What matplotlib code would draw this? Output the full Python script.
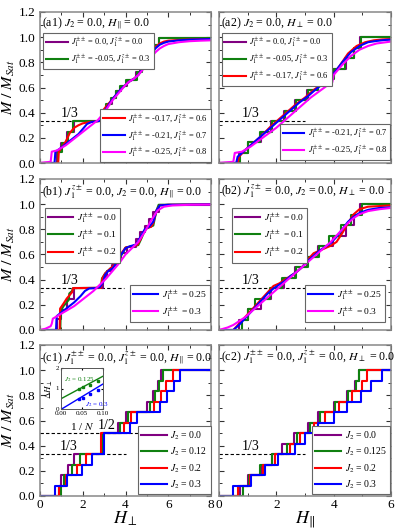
import numpy as np
import matplotlib
matplotlib.use("Agg")
import matplotlib.pyplot as plt
from matplotlib.ticker import MultipleLocator

plt.rcParams['font.family'] = ['Liberation Serif', 'DejaVu Serif']
plt.rcParams['mathtext.fontset'] = 'stix'

C_PUR, C_GRN, C_RED, C_BLU, C_MAG = '#800080', '#108010', '#ff0000', '#0000ff', '#ff00ff'

# ---------------- data ----------------
lev12 = [k / 12 for k in range(13)]
lev_c1 = [0, 1/12, 2/12, 3/12, 4/12, 6/12, 7/12, 8/12, 9/12, 10/12, 11/12, 1.0]
lev_a1 = [0, 0.09, 0.16, 0.25, 0.333, 0.42, 0.47, 0.52, 0.57, 0.61, 0.66, 0.72, 0.78, 0.83, 0.88, 0.94, 0.99]

# (a1) H_perp axis
a1_pur_jumps = [0.80, 1.00, 1.25, 1.60, 2.95, 3.15, 3.35, 3.55, 3.80, 4.05, 4.50, 4.70, 4.90, 5.10, 5.30, 5.55]
a1_grn_jumps = [0.85, 1.05, 1.30, 1.55, 2.90, 3.10, 3.30, 3.55, 3.75, 4.00, 4.55, 4.75, 4.95, 5.15, 5.35, 5.55]
a1_red_H = [0, 0.85, 0.88, 1.0, 1.2, 1.4, 1.6, 1.8, 2.0, 2.3, 2.6, 2.85, 2.92, 3.0, 3.2, 3.4, 3.6, 3.8, 4.0, 4.2, 4.4, 4.6, 4.8, 5.0, 5.2, 5.4, 5.6, 5.8, 6.0, 6.5, 7.0, 8.0]
a1_red_M = [0, 0.0, 0.09, 0.12, 0.17, 0.24, 0.28, 0.30, 0.315, 0.325, 0.33, 0.335, 0.40, 0.43, 0.47, 0.51, 0.55, 0.59, 0.62, 0.65, 0.67, 0.70, 0.75, 0.81, 0.87, 0.92, 0.95, 0.965, 0.972, 0.978, 0.982, 0.985]
a1_blu_H = [0, 0.68, 0.72, 0.9, 1.2, 1.5, 1.8, 2.0, 2.2, 2.4, 2.6, 2.8, 2.95, 3.05, 3.2, 3.4, 3.6, 3.8, 4.0, 4.2, 4.4, 4.6, 4.8, 5.0, 5.2, 5.4, 5.6, 5.8, 6.0, 6.5, 7.0, 8.0]
a1_blu_M = [0, 0, 0.09, 0.11, 0.15, 0.19, 0.23, 0.27, 0.31, 0.325, 0.33, 0.335, 0.36, 0.42, 0.46, 0.51, 0.55, 0.59, 0.62, 0.65, 0.67, 0.70, 0.75, 0.80, 0.86, 0.91, 0.94, 0.955, 0.965, 0.975, 0.98, 0.985]
a1_mag_H = [0, 0.5, 0.55, 0.8, 1.0, 1.2, 1.5, 1.8, 2.1, 2.4, 2.7, 3.0, 3.2, 3.4, 3.6, 3.8, 4.0, 4.2, 4.4, 4.6, 4.8, 5.0, 5.2, 5.4, 5.6, 5.8, 6.0, 6.5, 7.0, 7.5, 8.0]
a1_mag_M = [0, 0.01, 0.09, 0.10, 0.12, 0.14, 0.18, 0.22, 0.26, 0.30, 0.34, 0.40, 0.45, 0.50, 0.54, 0.58, 0.62, 0.65, 0.67, 0.70, 0.74, 0.79, 0.84, 0.88, 0.91, 0.93, 0.945, 0.96, 0.968, 0.972, 0.975]

# (a2) H_par axis
a2_pur_jumps = [0.70, 1.00, 1.45, 1.80, 2.25, 2.65, 3.08, 3.45, 3.98, 4.42, 4.72, 4.92]
a2_grn_jumps = [0.73, 1.02, 1.43, 1.84, 2.30, 2.68, 3.10, 3.47, 4.00, 4.40, 4.70, 4.95]
a2_red_H = [0, 0.65, 0.7, 0.9, 1.2, 1.5, 1.8, 2.1, 2.4, 2.7, 3.0, 3.3, 3.6, 3.9, 4.2, 4.5, 4.8, 5.1, 5.4, 5.7, 6.0]
a2_red_M = [0, 0.0, 0.05, 0.10, 0.16, 0.22, 0.29, 0.35, 0.41, 0.47, 0.52, 0.58, 0.63, 0.68, 0.77, 0.87, 0.93, 0.96, 0.975, 0.982, 0.985]
a2_blu_H = [0, 0.6, 0.65, 0.8, 1.0, 1.3, 1.6, 1.9, 2.2, 2.5, 2.8, 3.1, 3.4, 3.7, 4.0, 4.3, 4.6, 4.9, 5.2, 5.5, 5.8, 6.0]
a2_blu_M = [0, 0.0, 0.05, 0.08, 0.12, 0.18, 0.24, 0.30, 0.36, 0.42, 0.48, 0.53, 0.59, 0.64, 0.71, 0.80, 0.88, 0.93, 0.96, 0.97, 0.978, 0.98]
a2_mag_H = [0, 0.5, 0.55, 0.8, 1.1, 1.4, 1.7, 2.0, 2.3, 2.6, 2.9, 3.2, 3.5, 3.8, 3.95, 4.0, 4.3, 4.6, 4.9, 5.2, 5.5, 6.0]
a2_mag_M = [0, 0.01, 0.08, 0.09, 0.13, 0.18, 0.23, 0.28, 0.34, 0.40, 0.46, 0.52, 0.57, 0.62, 0.64, 0.70, 0.78, 0.85, 0.90, 0.93, 0.95, 0.965]

# (b1) H_perp axis
b1_grn_H = [0, 0.95, 0.97, 1.1, 1.25, 1.35, 1.37, 1.5, 1.55, 2.85, 2.9, 3.05, 3.3, 3.5, 3.7, 3.75, 3.9, 4.0, 4.3, 4.6, 4.75, 4.9, 5.0, 5.3, 5.45, 5.55, 8.0]
b1_grn_M = [0, 0, 0.15, 0.19, 0.22, 0.24, 0.29, 0.31, 0.333, 0.335, 0.41, 0.45, 0.49, 0.51, 0.55, 0.58, 0.62, 0.655, 0.665, 0.675, 0.73, 0.79, 0.81, 0.83, 0.95, 0.995, 0.998]
b1_red_H = [0, 0.92, 0.94, 1.1, 1.25, 1.5, 1.55, 2.85, 2.92, 3.05, 3.3, 3.5, 3.65, 3.72, 3.85, 4.0, 4.3, 4.55, 4.7, 4.85, 5.0, 5.2, 5.3, 5.45, 5.6, 6.0, 8.0]
b1_red_M = [0, 0, 0.17, 0.21, 0.25, 0.30, 0.333, 0.335, 0.41, 0.45, 0.49, 0.52, 0.54, 0.58, 0.62, 0.655, 0.665, 0.675, 0.72, 0.78, 0.81, 0.82, 0.85, 0.95, 0.99, 0.995, 0.998]
b1_blu_H = [0, 0.75, 0.78, 1.0, 1.3, 1.6, 1.9, 2.1, 2.3, 2.6, 2.8, 2.95, 3.05, 3.2, 3.4, 3.6, 3.8, 4.0, 4.2, 4.5, 4.7, 4.9, 5.1, 5.3, 5.45, 5.6, 6.0, 8.0]
b1_blu_M = [0, 0, 0.11, 0.14, 0.18, 0.22, 0.27, 0.31, 0.33, 0.333, 0.34, 0.38, 0.44, 0.47, 0.49, 0.54, 0.60, 0.65, 0.665, 0.68, 0.74, 0.80, 0.82, 0.86, 0.95, 0.99, 0.995, 0.998]
b1_mag_H = [0, 0.25, 0.5, 0.55, 0.6, 0.8, 1.0, 1.3, 1.6, 1.9, 2.2, 2.5, 2.8, 3.1, 3.4, 3.7, 4.0, 4.3, 4.6, 4.9, 5.2, 5.5, 5.8, 6.2, 7.0, 8.0]
b1_mag_M = [0, 0.01, 0.03, 0.05, 0.09, 0.11, 0.13, 0.16, 0.19, 0.23, 0.27, 0.31, 0.36, 0.41, 0.47, 0.53, 0.60, 0.65, 0.70, 0.78, 0.87, 0.95, 0.98, 0.99, 0.995, 0.997]

# (b2) H_par axis
b2_grn_jumps = [0.80, 1.00, 1.25, 1.79, 2.20, 2.70, 3.10, 3.50, 3.85, 4.25, 4.60, 5.00]
b2_red_H = [0, 0.5, 0.7, 0.9, 1.1, 1.3, 1.5, 1.7, 1.9, 2.1, 2.3, 2.5, 2.7, 2.9, 3.1, 3.3, 3.5, 3.7, 3.9, 4.1, 4.3, 4.5, 4.7, 4.9, 5.2, 5.6, 6.0]
b2_red_M = [0, 0.0, 0.05, 0.10, 0.15, 0.20, 0.25, 0.30, 0.35, 0.37, 0.40, 0.43, 0.46, 0.50, 0.56, 0.61, 0.63, 0.65, 0.67, 0.70, 0.77, 0.85, 0.92, 0.96, 0.98, 0.985, 0.99]
b2_blu_H = [0, 0.5, 0.7, 0.9, 1.1, 1.3, 1.5, 1.7, 1.9, 2.1, 2.3, 2.5, 2.7, 2.9, 3.1, 3.3, 3.5, 3.7, 3.9, 4.1, 4.3, 4.5, 4.7, 4.9, 5.2, 5.6, 6.0]
b2_blu_M = [0, 0.0, 0.04, 0.09, 0.14, 0.19, 0.24, 0.29, 0.33, 0.36, 0.39, 0.43, 0.46, 0.50, 0.55, 0.59, 0.63, 0.66, 0.69, 0.74, 0.80, 0.86, 0.90, 0.93, 0.955, 0.97, 0.975]
b2_mag_H = [0, 0.3, 0.5, 0.7, 0.9, 1.1, 1.3, 1.5, 1.7, 1.9, 2.1, 2.3, 2.5, 2.7, 2.9, 3.1, 3.3, 3.5, 3.7, 3.9, 4.1, 4.3, 4.5, 4.7, 4.9, 5.2, 5.6, 6.0]
b2_mag_M = [0, 0.02, 0.04, 0.07, 0.10, 0.14, 0.18, 0.22, 0.26, 0.30, 0.34, 0.38, 0.42, 0.46, 0.50, 0.54, 0.58, 0.62, 0.66, 0.70, 0.75, 0.80, 0.85, 0.89, 0.92, 0.945, 0.96, 0.97]

# (c1) H_perp axis, J2 series
c1_jumps = {
    '0.0':   [0.90, 1.00, 1.30, 1.60, 2.95, 3.65, 4.00, 5.00, 5.30, 5.50, 5.65],
    '0.125': [1.00, 1.10, 1.50, 1.85, 2.90, 3.75, 4.10, 5.15, 5.40, 5.55, 5.75],
    '0.2':   [0.90, 1.20, 1.75, 2.15, 2.85, 3.95, 4.25, 5.35, 5.65, 5.90, 6.20],
    '0.3':   [0.70, 1.25, 1.95, 2.45, 3.00, 4.20, 4.55, 5.60, 5.95, 6.25, 6.55],
}
# (c2) H_par axis, J2 series
c2_jumps = {
    '0.0':   [0.73, 1.02, 1.49, 1.84, 2.19, 2.63, 3.10, 3.47, 4.00, 4.47, 4.76, 4.88],
    '0.125': [0.84, 1.04, 1.43, 1.84, 2.36, 2.71, 3.18, 3.53, 4.06, 4.50, 4.78, 4.88],
    '0.2':   [0.67, 1.08, 1.54, 1.95, 2.48, 2.83, 3.30, 3.71, 4.18, 4.64, 4.99, 5.17],
    '0.3':   [0.49, 1.13, 1.60, 2.07, 2.65, 3.01, 3.47, 4.00, 4.47, 4.94, 5.29, 5.70],
}
c_labels = ['0.0', '0.125', '0.2', '0.3']
c1_leg = ['0.0', '0.12', '0.2', '0.3']

# inset (c1): gap vs 1/N
inv_N = [0.044, 0.052, 0.069, 0.088]
dH_125 = [1.00, 1.05, 1.17, 1.38]
dH_30 = [0.48, 0.52, 0.75, 0.93]
fit_x = [0.0, 0.10]
fit_125 = [0.50, 1.60]
fit_30 = [-0.02, 1.22]

a_labels = [r'$J_1^{\pm\pm}$ = 0.0, $J_1^{z\pm}$ = 0.0',
            r'$J_1^{\pm\pm}$ = -0.05, $J_1^{z\pm}$ = 0.3',
            r'$J_1^{\pm\pm}$ = -0.17, $J_1^{z\pm}$ = 0.6',
            r'$J_1^{\pm\pm}$ = -0.21, $J_1^{z\pm}$ = 0.7',
            r'$J_1^{\pm\pm}$ = -0.25, $J_1^{z\pm}$ = 0.8']
b_labels = [r'$J_1^{\pm\pm}$ = 0.0', r'$J_1^{\pm\pm}$ = 0.1', r'$J_1^{\pm\pm}$ = 0.2',
            r'$J_1^{\pm\pm}$ = 0.25', r'$J_1^{\pm\pm}$ = 0.3']

# ---------------- figure ----------------
fig = plt.figure(figsize=(3.97, 5.29), dpi=100)
W, H = 397, 529
def add(x0, x1, ytop, ybot):
    return fig.add_axes([x0 / W, 1 - ybot / H, (x1 - x0) / W, (ybot - ytop) / H])

LX0, LX1, RX0, RX1 = 40, 211, 219, 391
rows = [(12, 163), (179, 330), (345, 496)]
axs = [[add(LX0, LX1, *rows[r]), add(RX0, RX1, *rows[r])] for r in range(3)]

LW = 1.5
SPINE = '#888888'

def stairs(ax, jumps, levels, xmax, **kw):
    xs = [0] + list(jumps) + [xmax]
    ys = list(levels) + [levels[-1]]
    return ax.step(xs, ys, where='post', lw=LW, **kw)[0]

def style(ax, xmax, left, bottom):
    ax.set_xlim(0, xmax)
    ax.set_ylim(0, 1.2)
    ax.xaxis.set_major_locator(MultipleLocator(2))
    ax.xaxis.set_minor_locator(MultipleLocator(1))
    ax.yaxis.set_major_locator(MultipleLocator(0.2))
    ax.yaxis.set_minor_locator(MultipleLocator(0.1))
    ax.tick_params(which='both', direction='in', top=True, right=True, colors='#333333',
                   labelsize=9.5, labelcolor='black')
    ax.tick_params(which='major', length=3.5, width=0.8)
    ax.tick_params(which='minor', length=2, width=0.7)
    for s in ax.spines.values():
        s.set_color(SPINE)
        s.set_linewidth(1.1)
    if left:
        ax.yaxis.set_major_formatter(matplotlib.ticker.FormatStrFormatter('%.1f'))
        ax.set_ylabel(r'$M\ /\ M_{Sat}$', fontsize=11.5, labelpad=1)
    else:
        ax.set_yticklabels([])
    if not bottom:
        ax.set_xticklabels([])
    ax.tick_params(axis='x', pad=2)

def leg(ax, handles, labels, loc, anchor, fs=6.0):
    lg = ax.legend(handles, labels, loc=loc, bbox_to_anchor=anchor, fontsize=fs,
                   frameon=True, fancybox=False, framealpha=1, edgecolor='#666666',
                   handlelength=2.6, handletextpad=0.4, labelspacing=0.4,
                   borderpad=0.35, borderaxespad=0)
    lg.get_frame().set_linewidth(0.8)
    return lg

def third(ax, xend, tx, ty):
    ax.plot([0, xend], [1/3, 1/3], ls=(0, (3, 2)), color='black', lw=0.8)
    ax.text(tx, ty, '1/3', fontsize=10, ha='center', va='bottom')

def title(ax, s):
    ax.text(0.012, 0.975, s, transform=ax.transAxes, fontsize=8.6, ha='left', va='top')

# ---- a1
ax = axs[0][0]
third(ax, 3.95, 1.4, 0.345)
h = [stairs(ax, a1_pur_jumps, lev_a1, 8, color=C_PUR),
     stairs(ax, a1_grn_jumps, lev_a1, 8, color=C_GRN),
     ax.plot(a1_red_H, a1_red_M, color=C_RED, lw=LW)[0],
     ax.plot(a1_blu_H, a1_blu_M, color=C_BLU, lw=LW)[0],
     ax.plot(a1_mag_H, a1_mag_M, color=C_MAG, lw=LW)[0]]
style(ax, 8, True, False)
title(ax, r'(a1) $J_2$ = 0.0, $H_{\|}$ = 0.0')
l1 = leg(ax, h[:2], a_labels[:2], 'upper left', (0.02, 0.86))
ax.add_artist(l1)
leg(ax, h[2:], a_labels[2:], 'lower right', (1.0, 0.005))

# ---- a2
ax = axs[0][1]
third(ax, 3.0, 1.1, 0.345)
h = [stairs(ax, a2_pur_jumps, lev12, 6, color=C_PUR),
     stairs(ax, a2_grn_jumps, lev12, 6, color=C_GRN),
     ax.plot(a2_red_H, a2_red_M, color=C_RED, lw=LW)[0],
     ax.plot(a2_blu_H, a2_blu_M, color=C_BLU, lw=LW)[0],
     ax.plot(a2_mag_H, a2_mag_M, color=C_MAG, lw=LW)[0]]
style(ax, 6, False, False)
title(ax, r'(a2) $J_2$ = 0.0, $H_{\perp}$ = 0.0')
l1 = leg(ax, h[:3], a_labels[:3], 'upper left', (0.015, 0.86))
ax.add_artist(l1)
leg(ax, h[3:], a_labels[3:], 'lower right', (0.995, 0.02))

# ---- b1
ax = axs[1][0]
third(ax, 3.95, 1.4, 0.345)
h = [stairs(ax, a1_pur_jumps, lev_a1, 8, color=C_PUR),
     ax.plot(b1_grn_H, b1_grn_M, color=C_GRN, lw=LW)[0],
     ax.plot(b1_red_H, b1_red_M, color=C_RED, lw=LW)[0],
     ax.plot(b1_blu_H, b1_blu_M, color=C_BLU, lw=LW)[0],
     ax.plot(b1_mag_H, b1_mag_M, color=C_MAG, lw=LW)[0]]
style(ax, 8, True, False)
title(ax, r'(b1) $J_1^{z\pm}$ = 0.0, $J_2$ = 0.0, $H_{\|}$ = 0.0')
l1 = leg(ax, h[:3], b_labels[:3], 'upper left', (0.03, 0.81), fs=6.8)
ax.add_artist(l1)
leg(ax, h[3:], b_labels[3:], 'lower right', (0.994, 0.05), fs=6.8)

# ---- b2
ax = axs[1][1]
third(ax, 3.0, 1.1, 0.345)
h = [stairs(ax, a2_pur_jumps, lev12, 6, color=C_PUR),
     stairs(ax, b2_grn_jumps, lev12, 6, color=C_GRN),
     ax.plot(b2_red_H, b2_red_M, color=C_RED, lw=LW)[0],
     ax.plot(b2_blu_H, b2_blu_M, color=C_BLU, lw=LW)[0],
     ax.plot(b2_mag_H, b2_mag_M, color=C_MAG, lw=LW)[0]]
style(ax, 6, False, False)
title(ax, r'(b2) $J_1^{z\pm}$ = 0.0, $J_2$ = 0.0, $H_{\perp}$ = 0.0')
l1 = leg(ax, h[:3], b_labels[:3], 'upper left', (0.075, 0.81), fs=6.8)
ax.add_artist(l1)
leg(ax, h[3:], b_labels[3:], 'lower right', (0.965, 0.05), fs=6.8)

# ---- c1
ax = axs[2][0]
third(ax, 4.0, 1.35, 0.345)
ax.plot([0, 5.0], [0.5, 0.5], ls=(0, (3, 2)), color='black', lw=0.8)
ax.text(3.1, 0.51, '1/2', fontsize=10, ha='center', va='bottom')
cols = [C_PUR, C_GRN, C_RED, C_BLU]
h = [stairs(ax, c1_jumps[k], lev_c1, 8, color=c) for k, c in zip(c_labels, cols)]
style(ax, 8, True, True)
ax.set_xlabel(r'$H_{\perp}$', fontsize=13, labelpad=-1)
title(ax, r'(c1) $J_1^{\pm\pm}$ = 0.0, $J_1^{z\pm}$ = 0.0, $H_{\|}$ = 0.0')
leg(ax, h, [r'$J_2$ = ' + s for s in c1_leg], 'lower right', (1.0, 0.01), fs=7.0)

# inset
ins = add(61, 103, 368, 409)
ins.plot(fit_x, fit_125, color=C_GRN, lw=1.0)
ins.plot(fit_x, fit_30, color=C_BLU, lw=1.0)
ins.plot(inv_N, dH_125, 's', color=C_GRN, ms=2.0)
ins.plot(inv_N, dH_30, 's', color=C_BLU, ms=2.0)
ins.set_xlim(0, 0.10)
ins.set_ylim(0, 2)
ins.set_xticks([0.0, 0.05, 0.10])
ins.set_xticklabels(['0.00', '0.05', '0.10'])
ins.set_yticks([0, 1, 2])
ins.tick_params(direction='in', labelsize=5.0, length=1.5, pad=1.2, top=True, right=True)
for s in ins.spines.values():
    s.set_color('#555555')
    s.set_linewidth(0.7)
ins.set_ylabel(r'$\Delta H_{\perp}$', fontsize=6.5, labelpad=0.5)
ins.set_xlabel(r'1 / $N$', fontsize=8, labelpad=4)
ins.text(0.008, 1.35, r'$J_2$ = 0.125', color=C_GRN, fontsize=5.0)
ins.text(0.058, 0.12, r'$J_2$ = 0.3', color=C_BLU, fontsize=5.0)

# ---- c2
ax = axs[2][1]
third(ax, 3.0, 1.1, 0.345)
h = [stairs(ax, c2_jumps[k], lev12, 6, color=c) for k, c in zip(c_labels, cols)]
style(ax, 6, False, True)
ax.set_xlabel(r'$H_{\|}$', fontsize=13, labelpad=-1)
title(ax, r'(c2) $J_1^{\pm\pm}$ = 0.0, $J_1^{z\pm}$ = 0.0, $H_{\perp}$ = 0.0')
leg(ax, h, [r'$J_2$ = ' + s for s in c_labels], 'lower right', (0.995, 0.01), fs=7.0)

fig.savefig('out.png', dpi=100)
